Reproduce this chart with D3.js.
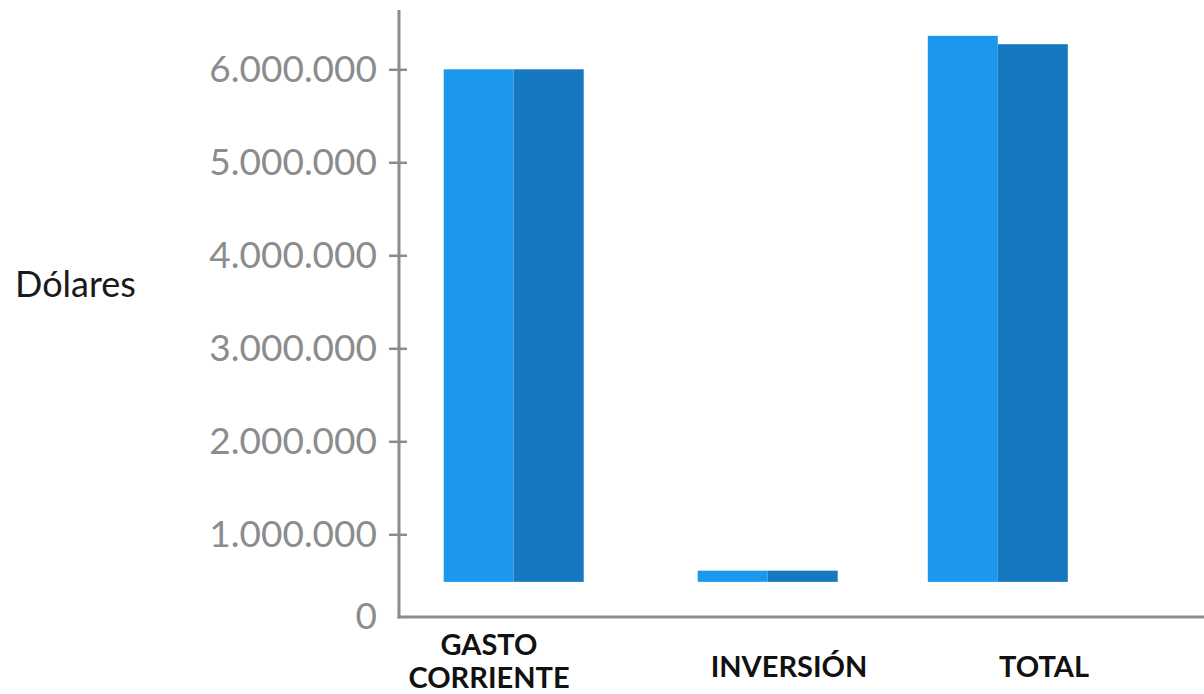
<!DOCTYPE html>
<html>
<head>
<meta charset="utf-8">
<script src="https://cdn.jsdelivr.net/npm/d3@7"></script>
<style>
  html, body { margin: 0; padding: 0; background: #ffffff; }
  svg { display: block; }
</style>
</head>
<body>
<svg id="chart" width="1204" height="694"></svg>
<script>
// ---- data ----
const categories = ["GASTO CORRIENTE", "INVERSIÓN", "TOTAL"];
const categoryLines = [["GASTO", "CORRIENTE"], ["INVERSIÓN"], ["TOTAL"]];
const series1 = [6000000, 560000, 6360000];   // light blue
const series2 = [6000000, 560000, 6270000];   // dark blue
const barBase = 425000;
const yTicks = [0, 1000000, 2000000, 3000000, 4000000, 5000000, 6000000];
const yTickLabels = ["0", "1.000.000", "2.000.000", "3.000.000", "4.000.000", "5.000.000", "6.000.000"];
const yTitle = "Dólares";

// ---- layout ----
const svg = d3.select("#chart");
const axisX = 399, axisTop = 10, axisBottom = 617;
const y = d3.scaleLinear().domain([0, 1000000, 6000000]).range([617, 534.3, 69.3]);
const xBar = d3.scaleOrdinal().domain(categories).range([513.7, 767.7, 997.8]);
const xLabel = d3.scaleOrdinal().domain(categories).range([489, 789, 1044]);
const barW = 70;
const colors = ["#1b98ec", "#1578c0"];
const gray = "#8c8c8c";

// bars
const seriesList = [series1, series2];
seriesList.forEach((vals, si) => {
  svg.append("g").selectAll("rect")
    .data(categories.map((c, i) => ({ c, v: vals[i] })))
    .join("rect")
    .attr("x", d => xBar(d.c) + (si === 0 ? -barW : 0))
    .attr("width", barW)
    .attr("y", d => y(d.v))
    .attr("height", d => y(barBase) - y(d.v))
    .attr("fill", colors[si]);
});

// y axis
const yAxis = d3.axisLeft(y).tickValues(yTicks)
  .tickFormat((d, i) => yTickLabels[i]).tickSize(10).tickPadding(12);
const gy = svg.append("g").attr("transform", `translate(${axisX},0)`).call(yAxis);
gy.select(".domain").remove();
gy.selectAll(".tick line").attr("x1", 8).attr("stroke", gray).attr("stroke-width", 2.5);
gy.selectAll(".tick").filter(d => d === 0).select("line").remove();
gy.selectAll(".tick text")
  .attr("fill", gray)
  .style("font-family", "Lato, 'Open Sans', sans-serif")
  .style("font-size", "37px");

// axis lines
svg.append("line").attr("x1", axisX).attr("x2", axisX)
  .attr("y1", axisTop).attr("y2", axisBottom + 1.5)
  .attr("stroke", gray).attr("stroke-width", 3);
svg.append("line").attr("x1", axisX - 1.5).attr("x2", 1204)
  .attr("y1", axisBottom).attr("y2", axisBottom)
  .attr("stroke", gray).attr("stroke-width", 3);

// y title
svg.append("text").attr("x", 15).attr("y", 297)
  .attr("fill", "#1a1a1a")
  .style("font-family", "Lato, 'Open Sans', sans-serif")
  .style("font-size", "36px")
  .text(yTitle);

// category labels
categories.forEach((c, i) => {
  const lines = categoryLines[i];
  const t = svg.append("text")
    .attr("text-anchor", "middle")
    .attr("fill", "#111")
    .style("font-family", "Lato, 'Open Sans', sans-serif")
    .style("font-weight", "bold")
    .style("font-size", "29px");
  const firstBaseline = lines.length > 1 ? 655 : 677;
  lines.forEach((ln, j) => {
    t.append("tspan").attr("x", xLabel(c)).attr("y", firstBaseline + j * 33).text(ln);
  });
});
</script>
</body>
</html>
